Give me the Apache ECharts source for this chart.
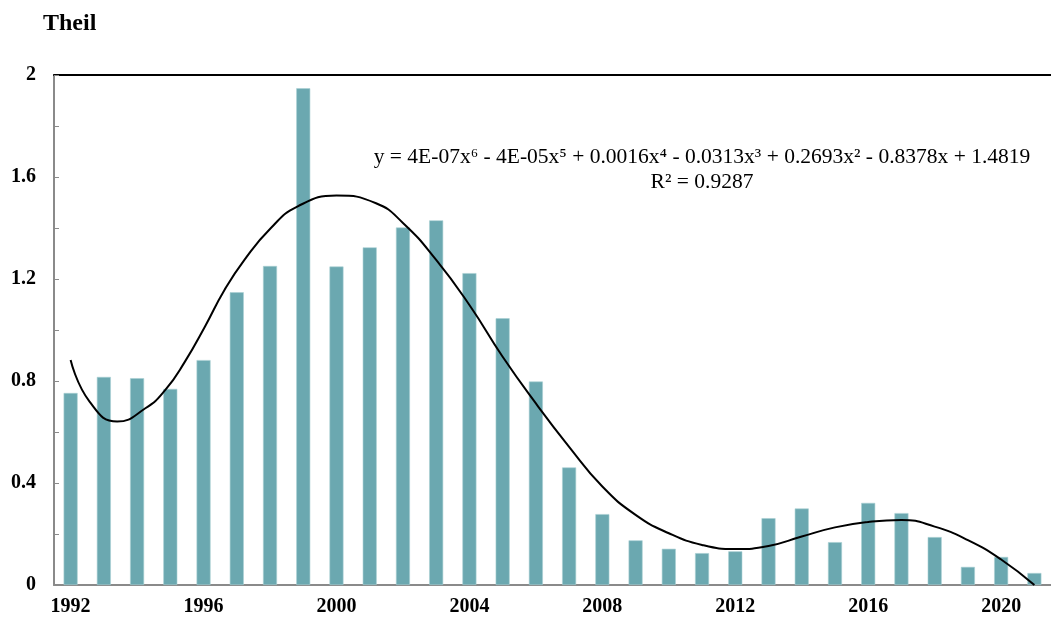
<!DOCTYPE html>
<html>
<head>
<meta charset="utf-8">
<script src="https://cdn.jsdelivr.net/npm/echarts@6/dist/echarts.min.js"></script>
<style>
  html, body { margin: 0; padding: 0; background: #fff; }
  #chart { width: 1051px; height: 620px; }
</style>
</head>
<body>
<div id="chart"></div>
<script>
  // years on the x axis
  const years = ['1992', '1993', '1994', '1995', '1996', '1997', '1998', '1999', '2000', '2001',
    '2002', '2003', '2004', '2005', '2006', '2007', '2008', '2009', '2010', '2011',
    '2012', '2013', '2014', '2015', '2016', '2017', '2018', '2019', '2020', '2021'];
  // Theil index (bars)
  const theil = [0.753, 0.816, 0.811, 0.769, 0.882, 1.148, 1.251, 1.948, 1.249, 1.324,
    1.402, 1.430, 1.223, 1.046, 0.798, 0.461, 0.278, 0.175, 0.142, 0.125,
    0.132, 0.262, 0.300, 0.168, 0.322, 0.282, 0.188, 0.071, 0.110, 0.047];
  // polynomial trendline, points (x in years)
  const trendX = [1992, 1992.57, 1993.4, 1994.25, 1994.85, 1995.44, 1996.04, 1996.63,
    1997.23, 1998.02, 1998.82, 2000.0, 2001.19, 2002, 2003, 2004, 2005, 2006,
    2007, 2008, 2009, 2010, 2011, 2012, 2013, 2014, 2015, 2016, 2017, 2018, 2019, 2020, 2021];
  const trendY = [0.882, 0.719, 0.641, 0.693, 0.765, 0.876, 1.013, 1.157,
    1.275, 1.399, 1.484, 1.527, 1.497, 1.42, 1.275, 1.098, 0.895, 0.712,
    0.542, 0.386, 0.275, 0.203, 0.157, 0.141, 0.153, 0.190, 0.226, 0.247, 0.255, 0.229, 0.176, 0.100, 0.0];
  const yTicks = { min: 0, max: 2, interval: 0.4 };

  const serif = '"Liberation Serif", "Times New Roman", serif';
  const chart = echarts.init(document.getElementById('chart'));
  const option = {
    animation: false,
    grid: { left: 54, top: 75, bottom: 35, width: 1008 },
    graphic: [
      { type: 'text', left: 43, top: 12,
        style: { text: 'Theil', font: 'bold 24px ' + serif, fill: '#000' } },
      { type: 'text', x: 702, y: 145,
        style: { text: 'y = 4E-07x\u2076 - 4E-05x\u2075 + 0.0016x\u2074 - 0.0313x\u00b3 + 0.2693x\u00b2 - 0.8378x + 1.4819\nR\u00b2 = 0.9287',
          font: '21.5px ' + serif, fill: '#000', textAlign: 'center', lineHeight: 25 } }
    ],
    xAxis: [{
      type: 'category',
      data: years,
      boundaryGap: true,
      axisLine: { lineStyle: { color: '#8a8a8a', width: 2 } },
      axisTick: { inside: true, length: 5, interval: 3, lineStyle: { color: '#8a8a8a' } },
      axisLabel: { interval: 3, margin: 12, color: '#000', fontFamily: serif, fontWeight: 'bold', fontSize: 20 }
    }, {
      type: 'category',
      data: years,
      position: 'top',
      axisLine: { lineStyle: { color: '#000', width: 2 } },
      axisTick: { show: false },
      axisLabel: { show: false }
    }, {
      type: 'value',
      min: 1991.5,
      max: 2021.5,
      show: false
    }],
    yAxis: {
      type: 'value',
      min: yTicks.min,
      max: yTicks.max,
      interval: yTicks.interval,
      splitLine: { show: false },
      axisLine: { show: true, lineStyle: { color: '#8a8a8a', width: 2 } },
      axisTick: { show: true, inside: true, length: 5, lineStyle: { color: '#8a8a8a' } },
      minorTick: { show: true, splitNumber: 2, length: 5, lineStyle: { color: '#8a8a8a' } },
      axisLabel: { margin: 18, color: '#000', fontFamily: serif, fontWeight: 'bold', fontSize: 20 }
    },
    series: [{
      type: 'bar',
      data: theil,
      barWidth: 14,
      itemStyle: { color: '#6ba8b0', borderColor: '#a9d0d4', borderWidth: 0.6 }
    }, {
      type: 'line',
      xAxisIndex: 2,
      data: trendX.map((x, i) => [x, trendY[i]]),
      smooth: true,
      symbol: 'none',
      lineStyle: { color: '#000', width: 2 },
      z: 5
    }]
  };
  chart.setOption(option);
</script>
</body>
</html>
